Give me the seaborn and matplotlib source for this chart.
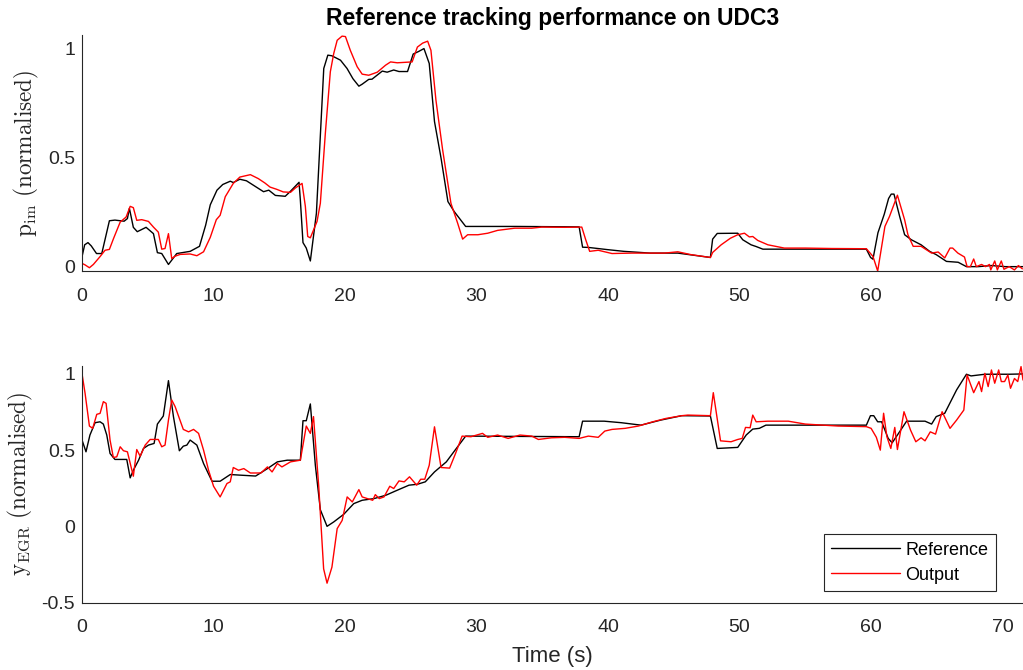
import matplotlib
matplotlib.use("Agg")
import matplotlib.pyplot as plt
import seaborn as sns
import pandas as pd

# ---- intake manifold pressure (normalised) ----
pim_ref_t = [0, 0.2, 0.45, 0.7, 1.1, 1.5, 2.08, 2.5, 3.2, 3.45,
             3.6, 3.9, 4.2, 4.87, 5.43, 5.73, 6.06, 6.57, 6.95, 7.2,
             8.22, 8.93, 9.4, 9.75, 10.26, 10.7, 11.27, 11.5, 12.0, 12.5,
             13.8, 14.2, 14.7, 15.45, 15.85, 16.5, 16.6, 16.8, 17.05, 17.36,
             17.82, 18.38, 18.69, 19.0, 19.65, 20.15, 20.6, 21.05, 21.3, 21.8,
             22.05, 22.83, 23.2, 23.7, 24.1, 24.75, 25.18, 25.6, 26.0, 26.4,
             26.8, 27.3, 27.82, 28.3, 29.17, 33.0, 37.8, 38.06, 38.5, 39.94,
             41.2, 43.2, 45.3, 47.78, 47.95, 48.3, 49.86, 50.24, 50.87, 51.26,
             51.77, 59.64, 59.96, 60.14, 60.52, 61.0, 61.33, 61.53, 61.74, 62.17,
             62.55, 63.06, 63.8, 64.45, 64.95, 65.73, 66.62, 67.25, 68.14, 69.16,
             70.2, 71.55]
pim_ref = [0.046, 0.10, 0.11, 0.095, 0.06, 0.06, 0.21, 0.213, 0.208, 0.22,
           0.267, 0.18, 0.16, 0.18, 0.151, 0.064, 0.06, 0.01, 0.04, 0.06,
           0.07, 0.093, 0.19, 0.283, 0.35, 0.376, 0.391, 0.385, 0.40, 0.393,
           0.343, 0.35, 0.326, 0.322, 0.345, 0.386, 0.305, 0.11, 0.085, 0.026,
           0.244, 0.907, 0.968, 0.965, 0.945, 0.907, 0.86, 0.826, 0.835, 0.857,
           0.858, 0.895, 0.89, 0.90, 0.893, 0.893, 0.973, 0.985, 0.998, 0.93,
           0.664, 0.496, 0.298, 0.252, 0.184, 0.184, 0.182, 0.089, 0.088, 0.078,
           0.07, 0.062, 0.062, 0.042, 0.126, 0.152, 0.153, 0.123, 0.10, 0.092,
           0.08, 0.08, 0.042, 0.034, 0.155, 0.24, 0.312, 0.332, 0.332, 0.23,
           0.146, 0.123, 0.10, 0.07, 0.055, 0.024, 0.02, 0.0, 0.0, 0.005,
           0.0, 0.0]

pim_out_t = [0, 0.23, 0.56, 0.86, 1.37, 1.75, 2.08, 2.39, 2.9, 3.35,
             3.66, 3.9, 4.16, 4.54, 5.05, 5.43, 5.8, 6.06, 6.31, 6.57,
             6.82, 7.08, 7.46, 8.22, 8.73, 9.24, 9.75, 10.21, 10.5, 10.89,
             11.5, 12.0, 12.8, 13.4, 13.9, 14.3, 14.8, 15.3, 15.85, 16.22,
             16.73, 16.98, 17.16, 17.36, 17.87, 18.12, 18.5, 18.88, 19.14, 19.4,
             19.77, 20.03, 20.4, 20.92, 21.3, 21.8, 22.45, 23.08, 23.46, 23.97,
             24.48, 25.1, 25.5, 25.9, 26.28, 26.53, 26.91, 27.42, 28.05, 28.56,
             28.94, 29.32, 30.1, 30.85, 31.6, 32.9, 34.2, 34.95, 36.7, 38.0,
             38.3, 38.6, 39.25, 40.3, 41.8, 44.3, 45.3, 46.3, 47.78, 47.95,
             48.6, 49.3, 49.86, 50.37, 50.74, 51.0, 51.38, 52.15, 53.4, 55.0,
             57.0, 59.64, 60.14, 60.5, 60.8, 61.05, 61.4, 62.0, 62.55, 62.8,
             63.2, 63.8, 64.6, 65.1, 65.6, 66.0, 66.2, 66.6, 67.1, 67.3,
             67.55, 67.8, 68.0, 68.4, 68.7, 69.0, 69.1, 69.4, 69.6, 69.9,
             70.1, 70.5, 70.9, 71.2, 71.5]
pim_out = [0.015, 0.008, -0.005, 0.01, 0.046, 0.075, 0.079, 0.128, 0.204, 0.227,
           0.276, 0.27, 0.212, 0.215, 0.207, 0.181, 0.158, 0.08, 0.083, 0.151,
           0.037, 0.048, 0.056, 0.058, 0.05, 0.068, 0.134, 0.215, 0.235, 0.32,
           0.381, 0.41, 0.421, 0.403, 0.383, 0.364, 0.354, 0.342, 0.34, 0.36,
           0.381, 0.276, 0.138, 0.132, 0.207, 0.29, 0.61, 0.892, 0.976, 1.036,
           1.055, 1.053, 0.99, 0.915, 0.881, 0.876, 0.89, 0.922, 0.937, 0.933,
           0.935, 0.937, 1.005, 1.023, 1.032, 0.99, 0.762, 0.534, 0.29, 0.199,
           0.126, 0.146, 0.146, 0.153, 0.166, 0.176, 0.176, 0.181, 0.18, 0.181,
           0.123, 0.07, 0.075, 0.06, 0.062, 0.062, 0.068, 0.055, 0.042, 0.065,
           0.10, 0.13, 0.146, 0.153, 0.136, 0.138, 0.12, 0.10, 0.085, 0.085,
           0.083, 0.082, 0.047, -0.02, 0.093, 0.184, 0.23, 0.327, 0.214, 0.146,
           0.093, 0.093, 0.062, 0.067, 0.04, 0.085, 0.085, 0.062, 0.044, 0.0,
           0.0, 0.035, 0.0, 0.01, 0.0, 0.01, -0.015, 0.026, -0.015, 0.026,
           -0.012, 0.0, -0.015, 0.005, -0.01]

# ---- EGR fraction (normalised) ----
egr_ref_t = [0, 0.3, 0.6, 0.99, 1.37, 1.62, 1.88, 2.13, 2.5, 3.4,
             3.66, 3.9, 4.3, 4.67, 5.05, 5.48, 5.73, 6.18, 6.57, 6.95,
             7.4, 7.7, 7.97, 8.22, 8.73, 9.24, 9.88, 10.5, 11.27, 12.0,
             13.2, 14.1, 14.85, 15.6, 16.6, 16.8, 17.05, 17.36, 17.74, 18.12,
             18.63, 19.14, 19.9, 20.66, 21.3, 22.2, 23.1, 23.97, 24.86, 25.5,
             26.1, 26.8, 27.7, 28.4, 29.17, 33.5, 37.8, 38.06, 39.7, 41.0,
             42.5, 44.0, 45.6, 47.78, 48.3, 49.86, 50.5, 51.0, 51.5, 52.0,
             59.64, 59.95, 60.2, 60.5, 60.8, 61.3, 61.6, 62.0, 62.7, 64.1,
             64.6, 64.95, 65.6, 66.5, 67.25, 67.6, 68.65, 70.5, 71.55]
egr_ref = [0.566, 0.489, 0.599, 0.68, 0.686, 0.671, 0.599, 0.478, 0.439, 0.439,
           0.318, 0.368, 0.434, 0.511, 0.533, 0.544, 0.671, 0.724, 0.956, 0.72,
           0.496, 0.526, 0.533, 0.566, 0.533, 0.412, 0.296, 0.296, 0.34, 0.336,
           0.33, 0.379, 0.423, 0.434, 0.434, 0.693, 0.693, 0.803, 0.401, 0.109,
           0.0, 0.029, 0.079, 0.149, 0.171, 0.182, 0.204, 0.237, 0.27, 0.276,
           0.292, 0.357, 0.423, 0.504, 0.592, 0.59, 0.588, 0.69, 0.69, 0.68,
           0.664, 0.697, 0.726, 0.724, 0.511, 0.518, 0.599, 0.638, 0.643, 0.664,
           0.664, 0.726, 0.726, 0.686, 0.686, 0.577, 0.548, 0.599, 0.69, 0.69,
           0.671, 0.72, 0.742, 0.895, 0.998, 0.987, 0.998, 0.998, 1.0]

egr_out_t = [0, 0.23, 0.56, 0.81, 1.12, 1.37, 1.62, 1.83, 2.13, 2.38,
             2.64, 2.9, 3.15, 3.45, 3.9, 4.16, 4.42, 4.8, 5.18, 5.8,
             6.06, 6.31, 6.57, 6.82, 7.08, 7.4, 7.7, 8.1, 8.48, 8.86,
             9.24, 9.62, 10.0, 10.5, 11.02, 11.27, 11.5, 11.9, 12.3, 12.8,
             13.6, 14.1, 14.45, 14.85, 15.2, 15.85, 16.6, 17.05, 17.36, 17.6,
             18.0, 18.37, 18.63, 19.0, 19.4, 19.78, 20.16, 20.55, 21.05, 21.3,
             22.1, 22.3, 22.6, 22.96, 23.4, 23.7, 24.1, 24.5, 24.9, 25.45,
             25.75, 26.06, 26.4, 26.8, 27.3, 27.95, 28.4, 28.9, 29.57, 30.45,
             30.85, 31.6, 32.4, 33.3, 34.2, 34.7, 35.7, 36.7, 37.8, 38.5,
             39.25, 39.75, 40.3, 41.3, 42.3, 43.4, 44.4, 45.6, 46.06, 47.78,
             48.0, 48.55, 49.35, 49.86, 50.2, 50.45, 50.8, 51.0, 51.26, 52.15,
             53.7, 55.0, 57.5, 59.64, 60.0, 60.4, 60.7, 60.95, 61.2, 61.5,
             61.8, 62.0, 62.5, 63.0, 63.4, 63.8, 64.1, 64.5, 64.9, 65.4,
             66.0, 66.5, 67.05, 67.3, 67.8, 68.2, 68.4, 68.65, 68.9, 69.15,
             69.4, 69.7, 69.9, 70.15, 70.4, 70.6, 70.9, 71.15, 71.4, 71.55]
egr_out = [1.0, 0.873, 0.658, 0.643, 0.735, 0.741, 0.818, 0.807, 0.566, 0.452,
           0.456, 0.522, 0.496, 0.489, 0.329, 0.504, 0.46, 0.533, 0.57, 0.57,
           0.522, 0.533, 0.697, 0.829, 0.785, 0.708, 0.636, 0.62, 0.636, 0.61,
           0.5, 0.368, 0.263, 0.193, 0.281, 0.292, 0.386, 0.368, 0.379, 0.35,
           0.35, 0.39, 0.357, 0.412, 0.39, 0.423, 0.434, 0.658, 0.61, 0.72,
           0.259, -0.279, -0.373, -0.268, -0.015, 0.039, 0.193, 0.16, 0.241, 0.193,
           0.171, 0.208, 0.182, 0.193, 0.263, 0.248, 0.298, 0.292, 0.325, 0.27,
           0.309, 0.309, 0.401, 0.653, 0.386, 0.382, 0.478, 0.592, 0.588, 0.61,
           0.584, 0.599, 0.577, 0.599, 0.592, 0.57, 0.581, 0.584, 0.577, 0.592,
           0.584, 0.625, 0.636, 0.643, 0.658, 0.686, 0.708, 0.726, 0.73, 0.726,
           0.877, 0.561, 0.555, 0.57, 0.577, 0.649, 0.647, 0.73, 0.686, 0.69,
           0.69, 0.671, 0.658, 0.654, 0.643, 0.584, 0.5, 0.742, 0.588, 0.511,
           0.649, 0.504, 0.752, 0.631, 0.555, 0.581, 0.561, 0.62, 0.605, 0.752,
           0.643, 0.697, 0.763, 0.993, 0.877, 0.95, 0.884, 1.004, 0.917, 1.026,
           0.939, 1.026, 0.95, 0.95, 0.993, 0.906, 0.97, 0.95, 1.048, 0.96]

x_ticks = [0, 10, 20, 30, 40, 50, 60, 70]
pim_ticks = [0, 0.5, 1]
pim_tick_labels = ["0", "0.5", "1"]
egr_ticks = [-0.5, 0, 0.5, 1]
egr_tick_labels = ["-0.5", "0", "0.5", "1"]

series_labels = ["Reference", "Output"]
series_colors = ["#000000", "#ff0000"]

sns.set_theme(style="white")
plt.rcParams["font.family"] = ["Liberation Sans", "DejaVu Sans"]
plt.rcParams["mathtext.fontset"] = "cm"

AX_COLOR = "#262626"

fig = plt.figure(figsize=(10.23, 6.7), dpi=100)
ax_top = fig.add_axes([0.0802, 0.5955, 0.9198, 0.3522])
ax_bot = fig.add_axes([0.0802, 0.1007, 0.9198, 0.3537])


def draw_pair(ax, t_ref, v_ref, t_out, v_out):
    ref = pd.DataFrame({"t": t_ref, "v": v_ref})
    out = pd.DataFrame({"t": t_out, "v": v_out})
    sns.lineplot(data=ref, x="t", y="v", ax=ax, color=series_colors[0],
                 lw=1.0, estimator=None, sort=False, label=series_labels[0])
    sns.lineplot(data=out, x="t", y="v", ax=ax, color=series_colors[1],
                 lw=1.0, estimator=None, sort=False, label=series_labels[1])


def style_axes(ax, yticks, ylabels, ylim):
    ax.set_xlim(0, 71.55)
    ax.set_ylim(*ylim)
    ax.set_xticks(x_ticks)
    ax.set_xticklabels([str(v) for v in x_ticks])
    ax.set_yticks(yticks)
    ax.set_yticklabels(ylabels)
    for side in ("top", "right"):
        ax.spines[side].set_visible(False)
    for side in ("left", "bottom"):
        ax.spines[side].set_color(AX_COLOR)
        ax.spines[side].set_linewidth(0.8)
    ax.tick_params(axis="both", direction="in", length=7, width=0.8,
                   color=AX_COLOR, labelcolor=AX_COLOR, labelsize=14)
    ax.tick_params(axis="x", pad=12)
    ax.tick_params(axis="y", pad=5)
    ax.set_facecolor("white")


draw_pair(ax_top, pim_ref_t, pim_ref, pim_out_t, pim_out)
style_axes(ax_top, pim_ticks, pim_tick_labels, (-0.02, 1.06))
ax_top.get_legend().remove()
ax_top.set_xlabel("")
ax_top.set_ylabel(r"$\mathrm{p_{im}}\ \mathrm{(normalised)}$",
                  fontsize=16.7, color=AX_COLOR, labelpad=5)
ax_top.set_title("Reference tracking performance on UDC3",
                 fontsize=16.5, fontweight="bold", color="black", pad=7)

draw_pair(ax_bot, egr_ref_t, egr_ref, egr_out_t, egr_out)
style_axes(ax_bot, egr_ticks, egr_tick_labels, (-0.5, 1.055))
ax_bot.set_xlabel("Time (s)", fontsize=16, color=AX_COLOR, labelpad=7)
ax_bot.set_ylabel(r"$\mathrm{y_{EGR}}\ \mathrm{(normalised)}$",
                  fontsize=16.7, color=AX_COLOR, labelpad=5)

leg = ax_bot.legend(loc="lower right", bbox_to_anchor=(0.971, 0.047),
                    borderaxespad=0, fontsize=13, frameon=True, fancybox=False,
                    framealpha=1, edgecolor=AX_COLOR, handlelength=3.8,
                    handletextpad=0.3, borderpad=0.42, labelspacing=0.45)
leg.get_frame().set_linewidth(0.8)
for txt in leg.get_texts():
    txt.set_color("black")

fig.savefig("out.png", dpi=100, facecolor="white")
